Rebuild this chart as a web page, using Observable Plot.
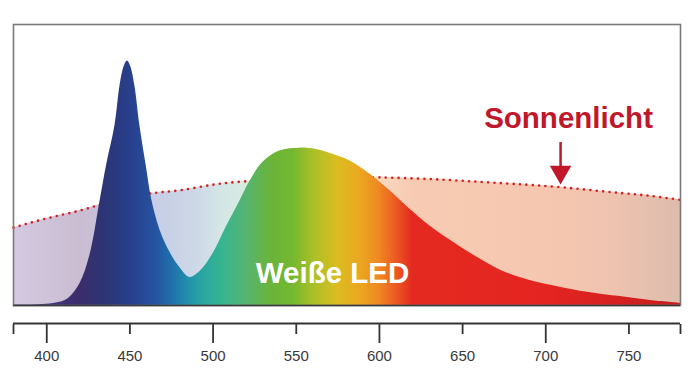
<!DOCTYPE html>
<html>
<head>
<meta charset="utf-8">
<script src="https://cdn.jsdelivr.net/npm/d3@7"></script>
<script src="https://cdn.jsdelivr.net/npm/@observablehq/plot@0.6"></script>
<style>
  html, body { margin: 0; padding: 0; background: #fff; }
  svg { display: block; }
</style>
</head>
<body>
<div id="chart"></div>
<script>
// Wavelength (nm) and relative intensity (% of plot height)
const ledWavelengths = [380,395,404,410,414,420,426,432,436,441,444,446.5,448.5,450.5,453,456,460,463,468,474,480,486,492,500,508,516,522,530,540,552,562,571,582,596,606,617,630,642,655,673,690,703,717,733,747,763,781];
const ledValues      = [0.2,0.3,0.7,1.5,3,7.8,18,37,50,64,78,85,87,85,78,64,49,38,27,19,13.5,10,12,18.5,28,37,44,51,55,56,55.5,54,51.5,46,41,35,28.5,23.5,18.5,12.5,9,7.2,5.5,4,3,1.8,0.8];

const sunWavelengths = [380,400,420,434,450,464,480,500,520,550,580,600,630,655,680,709,740,760,781];
const sunValues      = [27.7,31,33.8,36.2,38.3,40,41,43,44.2,45.2,45.6,45.6,45,44.2,43.3,42.1,40.3,39.2,37.6];

// Gradient colour stops (wavelength, colour)
const ledStopNm    = [380,405,420,435,450,465,475,485,495,505,520,535,548,560,575,588,600,610,620,700,750,781];
const ledStopColor = ["#4a3a78","#43347a","#3b2d6b","#2c3576","#283f8c","#2552a0","#1f6fab","#2290aa","#2ba8a0","#35b590","#55b470","#6ab43a","#74b830","#a8c028","#dcbc20","#eaa820","#ef8822","#ec5a22","#e42a20","#e42420","#d22020","#c41c1e"];
const sunStopNm    = [380,420,440,470,490,505,520,560,600,620,700,740,781];
const sunStopColor = ["#d4c9e1","#cabdd2","#c6c3dc","#c8cfe6","#cdd9e6","#d4e6e6","#d6ece0","#e8e8c8","#f6d9be","#f7cbb3","#f6c7b0","#efc3b0","#dcbcac"];

// Axis ticks
const majorTicks = [400, 500, 600, 700];
const minorTicks = [380, 450, 550, 650, 750, 781];
const tickLabels = [400, 450, 500, 550, 600, 650, 700, 750];

// Annotations
const labelTexts = ["Weiße LED", "Sonnenlicht"];
const labelNm    = [571.8, 713.7];
const labelY     = [11.4, 66.4];
const labelColor = ["#ffffff", "#c0172b"];
const arrowNm = [708.9];
const arrowTop = [58];
const arrowHead = [47.5];

const led = ledWavelengths.map((x, i) => ({x, y: ledValues[i]}));
const sun = sunWavelengths.map((x, i) => ({x, y: sunValues[i]}));
const labels = labelTexts.map((t, i) => ({t, x: labelNm[i], y: labelY[i], c: labelColor[i]}));
const arrow = arrowNm.map((x, i) => ({x, y1: arrowTop[i], y2: arrowHead[i]}));

const chart = Plot.plot({
  width: 696,
  height: 390,
  marginLeft: 13,
  marginRight: 16,
  marginTop: 24,
  marginBottom: 85,
  style: {fontFamily: "'Liberation Sans', Arial, sans-serif", background: "#fff"},
  x: {domain: [380, 781], axis: null},
  y: {domain: [0, 100], axis: null},
  marks: [
    Plot.areaY(sun, {x: "x", y: "y", fill: "url(#sunGrad)", curve: "natural"}),
    Plot.lineY(sun, {x: "x", y: "y", stroke: "#d42020", strokeWidth: 2.6, strokeDasharray: "0 6.4", strokeLinecap: "round", curve: "natural"}),
    Plot.areaY(led, {x: "x", y: "y", fill: "url(#ledGrad)", curve: "catmull-rom"}),
    Plot.frame({stroke: "#7a7a7a", strokeWidth: 1.6}),
    Plot.ruleY([0], {stroke: "#3a3a3a", strokeWidth: 1.6}),
    Plot.text(labels, {x: "x", y: "y", text: "t", fill: "c", fontSize: 29.5, fontWeight: "bold", textAnchor: "middle", lineAnchor: "middle"}),
    Plot.ruleX(arrow, {x: "x", y1: "y1", y2: "y2", stroke: "#c0172b", strokeWidth: 2.5}),
    Plot.dot(arrow, {x: "x", y: "y2", symbol: "triangle", r: 8, fill: "#c0172b", stroke: null, rotate: 180}),
    Plot.ruleY([0], {dy: 18, stroke: "#333", strokeWidth: 2}),
    Plot.axisX({ticks: majorTicks, tickSize: 19, dy: 19, tickFormat: () => "", stroke: "#333", strokeWidth: 1.8, label: null}),
    Plot.axisX({ticks: minorTicks, tickSize: 10, dy: 19, tickFormat: () => "", stroke: "#333", strokeWidth: 1.8, label: null}),
    Plot.axisX({ticks: tickLabels, tickSize: 0, tickPadding: 45, fontSize: 15, fill: "#3a3a3a", label: null})
  ]
});

document.getElementById("chart").appendChild(chart);

// Build horizontal gradients in the plot's x coordinates
const xs = chart.scale("x");
const svg = d3.select(chart.tagName.toLowerCase() === "svg" ? chart : chart.querySelector("svg"));
const defs = svg.insert("defs", ":first-child");
function addGrad(id, nms, cols) {
  const g = defs.append("linearGradient")
    .attr("id", id)
    .attr("gradientUnits", "userSpaceOnUse")
    .attr("x1", xs.apply(380)).attr("x2", xs.apply(781))
    .attr("y1", 0).attr("y2", 0);
  nms.forEach((nm, i) => {
    g.append("stop")
      .attr("offset", (nm - 380) / (781 - 380))
      .attr("stop-color", cols[i]);
  });
}
addGrad("ledGrad", ledStopNm, ledStopColor);
addGrad("sunGrad", sunStopNm, sunStopColor);
</script>
</body>
</html>
